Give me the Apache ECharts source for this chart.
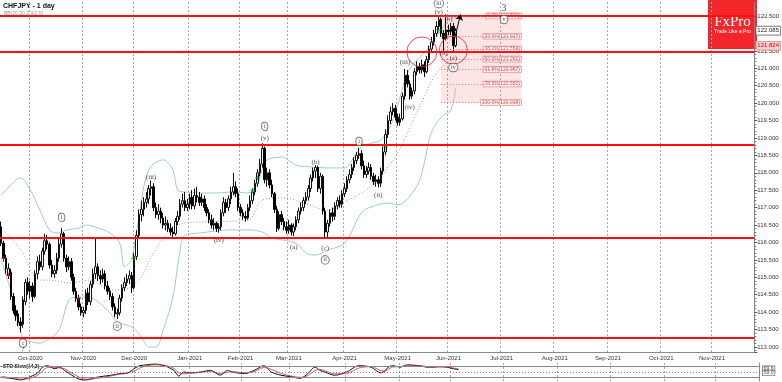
<!DOCTYPE html>
<html><head><meta charset="utf-8">
<script src="https://cdn.jsdelivr.net/npm/echarts@6/dist/echarts.min.js"></script>
<style>html,body{margin:0;padding:0;background:#fff}#c{width:782px;height:382px}</style>
</head><body><div id="c"></div>
<script>
// ---------- DATA ----------
const startDate = [2020, 8, 15];   // first bar (15 Sep 2020)
const barCount = 312;               // category slots incl. future space
const monthNames = ['Jan','Feb','Mar','Apr','May','Jun','Jul','Aug','Sep','Oct','Nov','Dec'];

const openP = [
116.45,115.98,115.55,115.05,115.15,114.45,114.05,113.95,113.72,113.65,
114.30,114.85,114.60,114.75,114.45,115.10,115.45,115.30,115.75,116.05,
115.95,115.35,115.10,115.20,115.55,115.95,116.25,115.55,115.30,115.45,
115.00,114.60,114.40,114.15,113.98,114.05,114.55,114.30,114.80,115.10,
115.30,115.05,114.95,115.10,114.75,114.60,114.45,114.15,113.95,113.98,
114.40,114.70,114.85,114.95,115.05,114.70,115.60,116.20,116.80,116.95,
117.15,117.25,117.55,117.60,117.00,116.80,116.90,116.70,116.50,116.55,
116.40,116.30,116.25,116.60,116.75,117.10,117.20,117.00,117.10,117.30,
117.05,117.35,117.30,117.15,117.25,117.00,116.85,116.65,116.50,116.55,
116.40,116.45,116.85,117.15,117.00,117.25,117.45,117.60,117.40,117.00,
116.85,116.75,116.70,117.00,117.20,117.45,117.70,118.00,118.25,118.70,
117.80,118.00,117.65,117.40,116.95,116.40,116.80,116.60,116.45,116.35,
116.50,116.30,116.45,116.65,116.90,117.00,117.20,117.30,117.55,117.85,
118.05,118.15,117.55,117.90,116.90,116.30,116.55,116.85,116.75,117.05,
117.20,117.10,117.40,117.55,117.80,117.95,118.15,118.35,118.50,118.55,
118.20,117.95,118.05,118.15,117.90,117.75,117.80,117.70,118.05,118.60,
119.10,119.50,119.75,119.85,119.60,119.45,119.55,120.20,120.80,120.55,
120.20,120.35,120.90,121.05,120.95,121.10,120.90,121.25,121.55,121.75,
122.00,122.20,122.40,122.00,121.85,122.10,122.05,122.20,121.65];
const closeP = [
115.98,115.55,115.25,115.25,114.45,114.05,113.90,113.70,113.62,114.35,
114.85,114.60,114.75,114.45,115.10,115.45,115.30,115.75,116.05,115.95,
115.35,115.10,115.20,115.55,115.95,116.25,115.55,115.30,115.45,115.00,
114.60,114.40,114.15,113.98,114.05,114.55,114.30,114.80,115.10,115.30,
115.05,114.95,115.10,114.75,114.60,114.45,114.15,113.95,113.98,114.40,
114.70,114.85,114.95,115.05,114.70,115.60,116.20,116.80,116.95,117.15,
117.25,117.55,117.60,117.00,116.80,116.90,116.70,116.50,116.55,116.40,
116.30,116.25,116.60,116.75,117.10,117.20,117.00,117.10,117.30,117.05,
117.35,117.30,117.15,117.25,117.00,116.85,116.65,116.50,116.55,116.40,
116.45,116.85,117.15,117.00,117.25,117.45,117.60,117.40,117.00,116.85,
116.75,116.70,117.00,117.20,117.45,117.70,118.00,118.25,118.70,117.80,
118.00,117.65,117.40,116.95,116.40,116.80,116.60,116.45,116.35,116.50,
116.30,116.45,116.65,116.90,117.00,117.20,117.30,117.55,117.85,118.05,
118.15,117.55,117.90,116.90,116.30,116.55,116.85,116.75,117.05,117.20,
117.10,117.40,117.55,117.80,117.95,118.15,118.35,118.50,118.55,118.20,
117.95,118.05,118.15,117.90,117.75,117.80,117.70,118.05,118.60,119.10,
119.50,119.75,119.85,119.60,119.45,119.55,120.20,120.80,120.55,120.20,
120.35,120.90,121.05,120.95,121.10,120.90,121.25,121.55,121.75,122.00,
122.20,122.40,122.00,121.85,122.10,122.05,122.20,121.65,122.085];
const highP = [
116.60,116.05,115.65,115.40,115.25,114.55,114.20,114.05,113.85,114.45,
114.95,115.00,114.90,114.85,115.20,115.60,115.65,115.85,116.25,116.22,
116.00,115.50,115.35,115.70,116.10,116.42,116.30,115.65,115.60,115.55,
115.10,114.70,114.50,114.25,114.15,114.65,114.70,114.90,115.25,116.10,
115.40,115.20,115.25,115.20,114.90,114.70,114.55,114.25,114.10,114.50,
114.80,115.00,115.10,115.20,115.15,115.70,116.35,116.95,117.20,117.30,
117.45,117.65,117.78,117.70,117.15,117.10,117.00,116.85,116.75,116.65,
116.55,116.45,116.70,116.90,117.25,117.40,117.45,117.25,117.40,117.50,
117.55,117.60,117.45,117.40,117.35,117.10,116.95,116.80,116.70,116.60,
116.55,116.95,117.30,117.25,117.35,117.60,118.00,117.75,117.55,117.10,
116.95,116.90,117.10,117.35,117.55,117.80,118.10,118.40,118.85,118.75,
118.15,118.10,117.80,117.45,117.05,116.90,116.90,116.70,116.60,116.65,
116.55,116.55,116.75,117.00,117.15,117.30,117.45,117.65,117.95,118.15,
118.22,118.20,118.00,117.95,117.00,116.65,116.95,117.00,117.15,117.30,
117.35,117.50,117.70,117.90,118.10,118.25,118.45,118.60,118.72,118.65,
118.35,118.20,118.30,118.25,118.00,117.95,117.90,118.15,118.75,119.25,
119.65,119.90,120.00,119.95,119.70,119.70,120.30,120.98,120.95,120.65,
120.45,121.00,121.20,121.15,121.25,121.20,121.35,121.65,121.90,122.10,
122.35,122.50,122.45,122.10,122.55,122.25,122.30,122.30,122.15];
const lowP = [
115.90,115.45,115.10,114.95,114.35,113.95,113.75,113.60,113.42,113.55,
114.20,114.50,114.40,114.30,114.40,114.95,115.20,115.20,115.65,115.80,
115.25,115.00,114.98,115.10,115.45,115.85,115.45,115.15,115.20,114.90,
114.50,114.30,114.05,113.90,113.85,113.95,114.20,114.20,114.70,114.95,
114.90,114.80,114.85,114.65,114.50,114.35,114.05,113.85,113.80,113.90,
114.30,114.60,114.75,114.80,114.55,114.65,115.50,116.10,116.60,116.75,
117.00,117.10,117.35,116.90,116.70,116.65,116.55,116.40,116.35,116.30,
116.20,116.15,116.20,116.50,116.65,117.00,116.90,116.90,116.95,116.95,
116.95,117.15,117.05,117.05,116.90,116.75,116.55,116.40,116.35,116.30,
116.28,116.35,116.75,116.85,116.90,117.10,117.35,117.30,116.90,116.75,
116.65,116.60,116.65,116.90,117.10,117.35,117.60,117.90,118.15,117.70,
117.60,117.55,117.30,116.85,116.30,116.35,116.50,116.35,116.25,116.25,
116.20,116.18,116.35,116.55,116.80,116.90,117.10,117.20,117.45,117.75,
117.85,117.45,117.40,116.80,116.15,116.15,116.45,116.60,116.65,116.95,
117.00,117.00,117.30,117.45,117.70,117.85,118.05,118.25,118.40,118.10,
117.85,117.85,117.95,117.80,117.65,117.60,117.58,117.60,117.95,118.50,
119.00,119.40,119.65,119.50,119.35,119.35,119.50,120.10,120.45,120.10,
120.12,120.25,120.80,120.85,120.85,120.75,120.85,121.15,121.45,121.65,
121.90,122.10,121.90,121.50,121.80,121.95,121.95,121.48,121.60];

// Bollinger Bands (20,2): [barIndex, price]
const bbUpper = [[0,117.35],[6,117.79],[8,117.85],[12,117.51],[16,116.93],[20,116.36],[23,116.27],[27,116.36],[32,116.41],[35,116.50],[39,116.44],[45,116.27],[49,115.98],[51,115.30],[53,115.41],[54,115.50],[57,116.73],[61,118.08],[67,118.37],[71,118.08],[73,117.51],[76,117.45],[82,117.42],[90,117.42],[95,117.45],[102,117.42],[106,117.70],[108,118.10],[110,118.37],[116,118.45],[122,118.22],[128,118.17],[135,118.14],[142,118.14],[146,118.45],[149,118.74],[153,118.85],[157,118.94],[161,119.35],[163,119.75],[165,120.18],[168,120.86],[172,121.24],[176,121.52],[179,121.81],[182,122.10],[185,122.40],[188,122.45]];
const bbMid = [[0,116.40],[8,115.80],[16,114.92],[20,114.92],[28,114.84],[37,114.92],[45,114.64],[50,114.64],[57,114.92],[62,115.58],[69,116.27],[76,116.56],[83,116.59],[102,116.64],[108,117.22],[117,117.28],[127,117.08],[135,116.93],[141,117.13],[149,117.42],[156,117.79],[160,118.17],[164,118.57],[171,119.60],[175,120.18],[179,120.75],[184,121.15],[188,121.32]];
const bbLower = [[0,115.50],[4,114.60],[9,113.26],[13,113.14],[16,113.11],[19,113.20],[23,113.40],[25,113.69],[28,114.35],[31,114.43],[35,114.43],[39,114.35],[45,113.98],[48,113.72],[54,113.57],[58,113.29],[61,113.00],[64,113.00],[67,113.49],[71,114.43],[74,115.78],[76,116.21],[82,116.27],[95,116.36],[102,116.36],[108,116.30],[112,116.13],[122,115.98],[126,115.70],[130,115.64],[135,115.78],[142,115.98],[149,116.85],[153,117.02],[160,117.13],[164,117.08],[171,117.51],[174,117.99],[177,118.94],[179,119.31],[183,119.66],[186,119.80],[188,120.43]];

// Stochastic slow (14,3): [barIndex, value]
const stochK = [[0,20],[4,15],[8,6],[12,24],[15,45],[17,77],[19,85],[22,68],[24,77],[26,59],[28,41],[32,10],[35,6],[39,20],[45,32],[49,41],[52,45],[55,72],[57,85],[60,90],[63,94],[67,85],[71,59],[73,27],[75,50],[78,45],[82,50],[86,59],[90,32],[93,59],[95,50],[100,41],[104,59],[108,85],[111,50],[115,32],[119,24],[123,15],[126,41],[129,77],[131,59],[133,50],[137,32],[142,50],[147,85],[152,77],[156,45],[158,59],[159,77],[161,85],[164,77],[167,90],[169,88],[172,85],[175,77],[178,77],[180,80],[183,77],[186,68],[188,63]];
const stochD = [[0,25],[4,18],[8,10],[12,15],[15,32],[17,55],[19,75],[22,76],[24,72],[26,68],[28,52],[32,22],[35,10],[39,14],[45,28],[49,38],[52,44],[55,58],[57,72],[60,85],[63,90],[67,88],[71,70],[73,45],[75,40],[78,44],[82,48],[86,55],[90,42],[93,48],[95,52],[100,46],[104,52],[108,75],[111,65],[115,42],[119,28],[123,20],[126,30],[129,58],[131,65],[133,58],[137,40],[142,42],[147,72],[152,80],[156,58],[158,55],[159,65],[161,78],[164,80],[167,84],[169,87],[172,86],[175,80],[178,78],[180,78],[183,78],[186,72],[188,66]];
const stochLevels = [80, 50, 20];
const stochReadout = ['69.6', '59.0'];

// horizontal support/resistance lines, current price, tag
const levelLines = [122.50, 121.47, 118.81, 116.13, 113.27];
const lastPrice = 122.085;
const tagPrice = 121.824;

// Fibonacci retracement
const fibPct = [0.0, 23.6, 38.2, 50.0, 61.8, 78.6, 100.0];
const fibVal = [122.503, 121.917, 121.554, 121.261, 120.967, 120.550, 120.018];
const fibFrom = 182, fibTo = 215;

// Elliott wave labels [barIndex, price, text]
const circledLabels = [[9,113.11,'c'],[25,116.72,'i'],[48,113.60,'ii'],[109,119.33,'i'],[134,115.50,'ii'],[148,118.90,'i'],[181,122.86,'iii'],[187,121.02,'iv'],[208,122.40,'v']];
const plainLabels = [[9,112.93,'?'],[62,117.88,'(iii)'],[90,116.07,'(iv)'],[109,119.00,'(v)'],[121,115.87,'(a)'],[130,118.31,'(b)'],[134,115.84,'(c)'],[156,117.36,'(ii)'],[167,121.18,'(iii)'],[169,119.89,'(iv)'],[181,122.62,'(v)'],[185,122.42,'(b)'],[183,121.44,'(a)'],[187,121.30,'(c)']];
const bigLabels = [[208,122.73,'3']];
const redCircles = [[174,121.47],[187,121.52]];
const arrowFrom = [187, 121.70], arrowTo = [190, 122.55];
const redMarks = [[1,115.55],[3,115.06],[32,114.40]];
const greenMarks = [[55,115.55],[104,117.50],[106,117.85],[159,118.74],[181,122.10]];

// ---------- BUILD ----------
const dates = [];
(function(){
  const d = new Date(Date.UTC(startDate[0], startDate[1], startDate[2]));
  while (dates.length < barCount) {
    const wd = d.getUTCDay();
    if (wd !== 0 && wd !== 6) dates.push(d.toISOString().slice(0,10));
    d.setUTCDate(d.getUTCDate() + 1);
  }
})();
const isMonthStart = i => i > 0 && dates[i].slice(5,7) !== dates[i-1].slice(5,7);
const monthLabel = v => monthNames[+v.slice(5,7)-1] + '-' + v.slice(0,4);
const candles = openP.map((o,i) => [o, closeP[i], lowP[i], highP[i]]);

const FONT = 'Liberation Sans';
const SERIF = 'Liberation Serif';
const plusPath = 'path://M2,0H3V2H5V3H3V5H2V3H0V2H2Z';

const chart = echarts.init(document.getElementById('c'), null, {renderer:'canvas'});
const option = {
  animation: false,
  backgroundColor: '#fff',
  grid: [
    {left: 0, top: 2, width: 759, height: 350, show: false},
    {left: 0, top: 363, width: 759, height: 18, show: false}
  ],
  xAxis: [
    {type:'category', gridIndex:0, data: dates, boundaryGap: true,
     axisLine:{show:true, lineStyle:{color:'#888', width:1}},
     axisTick:{show:false},
     axisLabel:{interval:(i)=>isMonthStart(i), formatter: monthLabel, fontSize:6, color:'#333', fontFamily: FONT, margin:3},
     splitLine:{show:true, interval:(i)=>isMonthStart(i), lineStyle:{color:'#a8a8a8', type:[2,2], width:1}}},
    {type:'category', gridIndex:1, data: dates, boundaryGap: true,
     axisLine:{show:false}, axisTick:{show:false}, axisLabel:{show:false},
     splitLine:{show:true, interval:(i)=>isMonthStart(i), lineStyle:{color:'#a8a8a8', type:[2,2], width:1}}}
  ],
  yAxis: [
    {type:'value', gridIndex:0, position:'right', min:112.856, max:122.902, scale:true,
     splitNumber:20, minInterval:0.5, maxInterval:0.5,
     axisLine:{show:true, lineStyle:{color:'#888'}},
     axisTick:{show:true, length:3, lineStyle:{color:'#555'}},
     minorTick:{show:true, splitNumber:5, length:2, lineStyle:{color:'#777'}},
     axisLabel:{fontSize:6, color:'#333', fontFamily: FONT, margin:3, showMinLabel:false, showMaxLabel:false,
       formatter: v => v.toFixed(3)},
     splitLine:{show:false}},
    {type:'value', gridIndex:1, position:'right', min:0, max:100,
     axisLine:{show:true, lineStyle:{color:'#888'}}, axisTick:{show:false}, axisLabel:{show:false}, splitLine:{show:false}}
  ],
  graphic: [
    {type:'text', left:3, top:3, style:{text:'CHFJPY - 1 day', fontSize:7, fontWeight:'bold', fill:'#111', fontFamily:FONT}},
    {type:'text', left:4, top:11, style:{text:'BB(20,20,2.0/2.0)', fontSize:5, fill:'#6f9fb3', fontFamily:FONT}},
    {type:'rect', left:708, top:0, shape:{width:49, height:49}, style:{fill:'#f2262b'}},
    {type:'text', x:732.5, y:22, style:{text:'FxPro', fontSize:15, fill:'#fff', fontFamily:SERIF, align:'center', verticalAlign:'middle'}},
    {type:'text', x:732.5, y:31.5, style:{text:'Trade Like a Pro', fontSize:5, fill:'#fff', fontFamily:FONT, align:'center', verticalAlign:'middle'}},
    {type:'text', left:3, top:364, style:{text:'STO Slow(14,3)', fontSize:5, fontWeight:'bold', fill:'#111', fontFamily:FONT}}
  ],
  series: [
    {type:'candlestick', name:'CHFJPY', xAxisIndex:0, yAxisIndex:0, data: candles, barWidth: 2,
     itemStyle:{color:'#ffffff', color0:'#000000', borderColor:'#111', borderColor0:'#000', borderWidth:1},
     markArea:{silent:true, itemStyle:{color:'rgba(240,110,110,0.18)'},
       data:[[{coord:[dates[fibFrom], fibVal[0]]},{coord:[dates[fibTo], fibVal[fibVal.length-1]]}]]},
     markLine:{silent:true, symbol:['none','none'], animation:false,
       data: [
         ...levelLines.map(v => ({yAxis:v, lineStyle:{color:'#ff1010', width:2, type:'solid'}, label:{show:false}})),
         ...fibVal.map(v => [{coord:[dates[fibFrom], v], lineStyle:{color:'#e07070', width:1, type:[1,2]}, label:{show:false}},{coord:[dates[fibTo], v]}]),
         [{coord:[dates[arrowFrom[0]], arrowFrom[1]], symbol:'none', lineStyle:{color:'#000', width:1, type:'solid'}, label:{show:false}},
          {coord:[dates[arrowTo[0]], arrowTo[1]], symbol:'arrow', symbolSize:6}],
         {yAxis:lastPrice, lineStyle:{color:'rgba(0,0,0,0)', width:0},
          label:{show:true, position:'end', distance:2, formatter: lastPrice.toFixed(3), fontSize:6, color:'#222', fontFamily:FONT,
            backgroundColor:'#fff', borderColor:'#666', borderWidth:0.8, padding:[1,1]}},
         {yAxis:tagPrice, lineStyle:{color:'rgba(0,0,0,0)', width:0},
          label:{show:true, position:'end', distance:2, offset:[0,6], formatter: tagPrice.toFixed(3), fontSize:6, color:'#c00', fontFamily:FONT,
            backgroundColor:'#f9d0d0', borderColor:'#e08080', borderWidth:0.8, padding:[1,1]}}
       ]}},
    {type:'line', name:'BB upper', data: bbUpper, showSymbol:false, smooth:0.35, lineStyle:{color:'#9fcccc', width:1}, z:1},
    {type:'line', name:'BB lower', data: bbLower, showSymbol:false, smooth:0.35, lineStyle:{color:'#9fcccc', width:1}, z:1},
    {type:'line', name:'BB mid', data: bbMid, showSymbol:false, smooth:0.35, lineStyle:{color:'#999', width:1, type:[1,2]}, z:1},
    {type:'scatter', name:'fib labels', data: fibVal.map(v => [fibTo, v]), symbolSize:0, silent:true,
     label:{show:true, position:'left', distance:0, fontSize:5, fontFamily:FONT, color:'#b33',
       backgroundColor:'#fff', borderColor:'#e08080', borderWidth:0.8, padding:[0,1],
       formatter: p => fibPct[p.dataIndex].toFixed(1) + '%(' + fibVal[p.dataIndex].toFixed(3) + ')'}},
    {type:'scatter', name:'circles', data: redCircles, symbol:'circle', silent:true,
     symbolSize:(v,p)=> p.dataIndex===0 ? 30 : 28,
     itemStyle:{color:'rgba(0,0,0,0)', borderColor:'#ee2020', borderWidth:1}, z:5},
    {type:'scatter', name:'red marks', data: redMarks, symbol: plusPath, symbolSize:5, itemStyle:{color:'#d01010'}, z:6},
    {type:'scatter', name:'green marks', data: greenMarks, symbol: plusPath, symbolSize:5, itemStyle:{color:'#10a010'}, z:6},
    {type:'scatter', name:'wave circled', data: circledLabels.map(l => ({value:[l[0], l[1]], name:l[2]})), symbolSize:0, silent:true, z:7,
     label:{show:true, position:'inside', formatter: p => p.name, fontSize:6, fontFamily:SERIF, color:'#111',
       borderColor:'#333', borderWidth:0.7, borderRadius:5, padding:[1,2], backgroundColor:'#fff'}},
    {type:'scatter', name:'wave plain', data: plainLabels.map(l => ({value:[l[0], l[1]], name:l[2]})), symbolSize:0, silent:true, z:7,
     label:{show:true, position:'inside', formatter: p => p.name, fontSize:7, fontFamily:SERIF, color:'#111'}},
    {type:'scatter', name:'wave big', data: bigLabels.map(l => ({value:[l[0], l[1]], name:l[2]})), symbolSize:0, silent:true, z:7,
     label:{show:true, position:'inside', formatter: p => p.name, fontSize:10, fontFamily:SERIF, color:'#111'}},
    {type:'line', name:'%K', xAxisIndex:1, yAxisIndex:1, data: stochK, showSymbol:false, smooth:0.3, lineStyle:{color:'#111', width:1},
     markLine:{silent:true, symbol:['none','none'], label:{show:false},
       data: stochLevels.map((v,k) => ({yAxis:v, lineStyle:{color:'#888', width:1, type: k===1 ? [1,2] : 'solid'}}))}},
    {type:'line', name:'%D', xAxisIndex:1, yAxisIndex:1, data: stochD, showSymbol:false, smooth:0.3, lineStyle:{color:'#d03030', width:0.8}},
    {type:'scatter', name:'sto readout', xAxisIndex:1, yAxisIndex:1, data: [[dates.length-1, 68],[dates.length-1, 45]], symbolSize:0, silent:true,
     label:{show:true, position:'right', distance:5, fontSize:5, color:'#222', fontFamily:FONT, backgroundColor:'#fff', borderColor:'#555', borderWidth:0.7, padding:[0,1],
       formatter: p => stochReadout[p.dataIndex]}}
  ]
};
chart.setOption(option);
</script>
</body></html>
